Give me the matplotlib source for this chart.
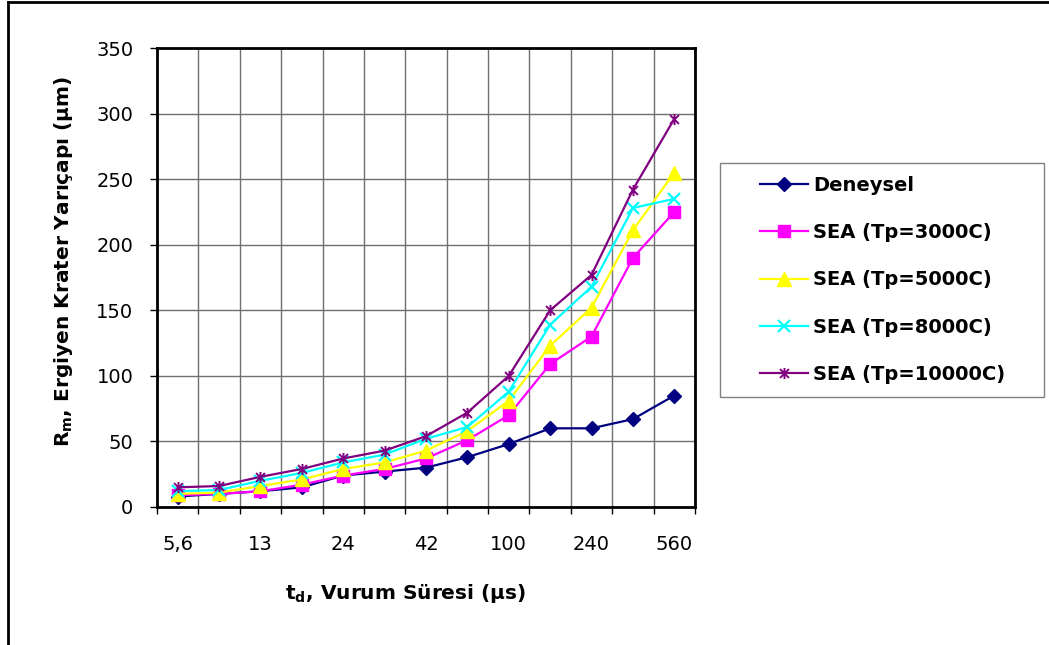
import matplotlib
matplotlib.use("Agg")
import matplotlib.pyplot as plt
from matplotlib.path import Path
from matplotlib.lines import Line2D
from matplotlib.patches import Rectangle

plt.rcParams['font.family'] = ['DejaVu Sans']
plt.rcParams['mathtext.fontset'] = 'dejavusans'

# pulse duration categories (only every other one is labelled)
td_labels = ["5,6", "", "13", "", "24", "", "42", "", "100", "", "240", "", "560"]

deneysel = [8, 10, 12, 15, 24, 27, 30, 38, 48, 60, 60, 67, 85]
sea_3000 = [9, 10, 12, 17, 24, 29, 37, 51, 70, 109, 130, 190, 225]
sea_5000 = [10, 11, 16, 21, 29, 34, 43, 58, 81, 123, 152, 211, 255]
sea_8000 = [12, 13, 20, 26, 34, 40, 52, 61, 88, 139, 168, 228, 235]
sea_10000 = [15, 16, 23, 29, 37, 43, 54, 72, 100, 150, 177, 242, 296]

names = ["Deneysel", "SEA (Tp=3000C)", "SEA (Tp=5000C)",
         "SEA (Tp=8000C)", "SEA (Tp=10000C)"]

# excel style asterisk: an X with a vertical stroke
star = Path([(-1, -1), (1, 1), (-1, 1), (1, -1), (0, -1.25), (0, 1.25)],
            [Path.MOVETO, Path.LINETO] * 3)

styles = [
    dict(color="#000080", marker="D", ms=7.5, mfc="#000080", mec="#000080"),
    dict(color="#FF00FF", marker="s", ms=8, mfc="#FF00FF", mec="#FF00FF"),
    dict(color="#FFFF00", marker="^", ms=10, mfc="#FFFF00", mec="#FFFF00"),
    dict(color="#00FFFF", marker="x", ms=8, mew=1.6),
    dict(color="#800080", marker=star, ms=8, mew=1.4),
]

W, H = 1049, 645
fig = plt.figure(figsize=(W / 100, H / 100), dpi=100)
ax = fig.add_axes([157 / W, 1 - 507 / H, 538 / W, 459 / H])

x = list(range(len(td_labels)))
series = [deneysel, sea_3000, sea_5000, sea_8000, sea_10000]
for vals, name, st in zip(series, names, styles):
    ax.plot(x, vals, lw=1.6, label=name, **st, zorder=3)

ax.set_xlim(-0.5, len(td_labels) - 0.5)
ax.set_ylim(0, 350)
ax.set_yticks(range(0, 351, 50))
ax.set_xticks(x)
ax.set_xticklabels(td_labels)
ax.set_xticks([i - 0.5 for i in range(len(td_labels) + 1)], minor=True)

ax.tick_params(axis='x', which='major', length=0, pad=20, labelsize=14)
ax.tick_params(axis='x', which='minor', length=5, width=1, color='black')
ax.tick_params(axis='y', which='major', length=5, width=1, pad=12,
               labelsize=14, direction='out')

ax.grid(True, axis='y', which='major', color='#707070', lw=1)
ax.grid(True, axis='x', which='minor', color='#707070', lw=1)
ax.set_axisbelow(True)

for s in ax.spines.values():
    s.set_linewidth(2)
    s.set_color('black')

ax.set_xlabel(r"t$_\mathbf{d}$, Vurum Süresi (µs)", fontsize=14.5, fontweight='bold')
ax.set_ylabel(r"R$_\mathbf{m}$, Ergiyen Krater Yarıçapı (µm)", fontsize=14.5,
              fontweight='bold')
ax.xaxis.set_label_coords((405 - 157) / 538, (507 - 582) / 459)
ax.yaxis.set_label_coords((75 - 157) / 538, (507 - 261) / 459)

# legend box
fig.patches.append(Rectangle((720 / W, 1 - 397 / H), 324 / W, 234 / H,
                             transform=fig.transFigure, fill=False,
                             edgecolor='#808080', lw=1))
leg = fig.legend(loc='upper left', bbox_to_anchor=(760 / W, 1 - 176 / H),
                 frameon=False, borderpad=0, borderaxespad=0,
                 handlelength=2.47, handletextpad=0.26, labelspacing=1.45,
                 prop=dict(size=14, weight='bold'))

# chart outer frame
fig.add_artist(Line2D([8 / W, 8 / W], [0, 1 - 2 / H], transform=fig.transFigure,
                      color='black', lw=2))
fig.add_artist(Line2D([8 / W, 1], [1 - 2 / H, 1 - 2 / H], transform=fig.transFigure,
                      color='black', lw=2))

fig.savefig("out.png", dpi=100)
